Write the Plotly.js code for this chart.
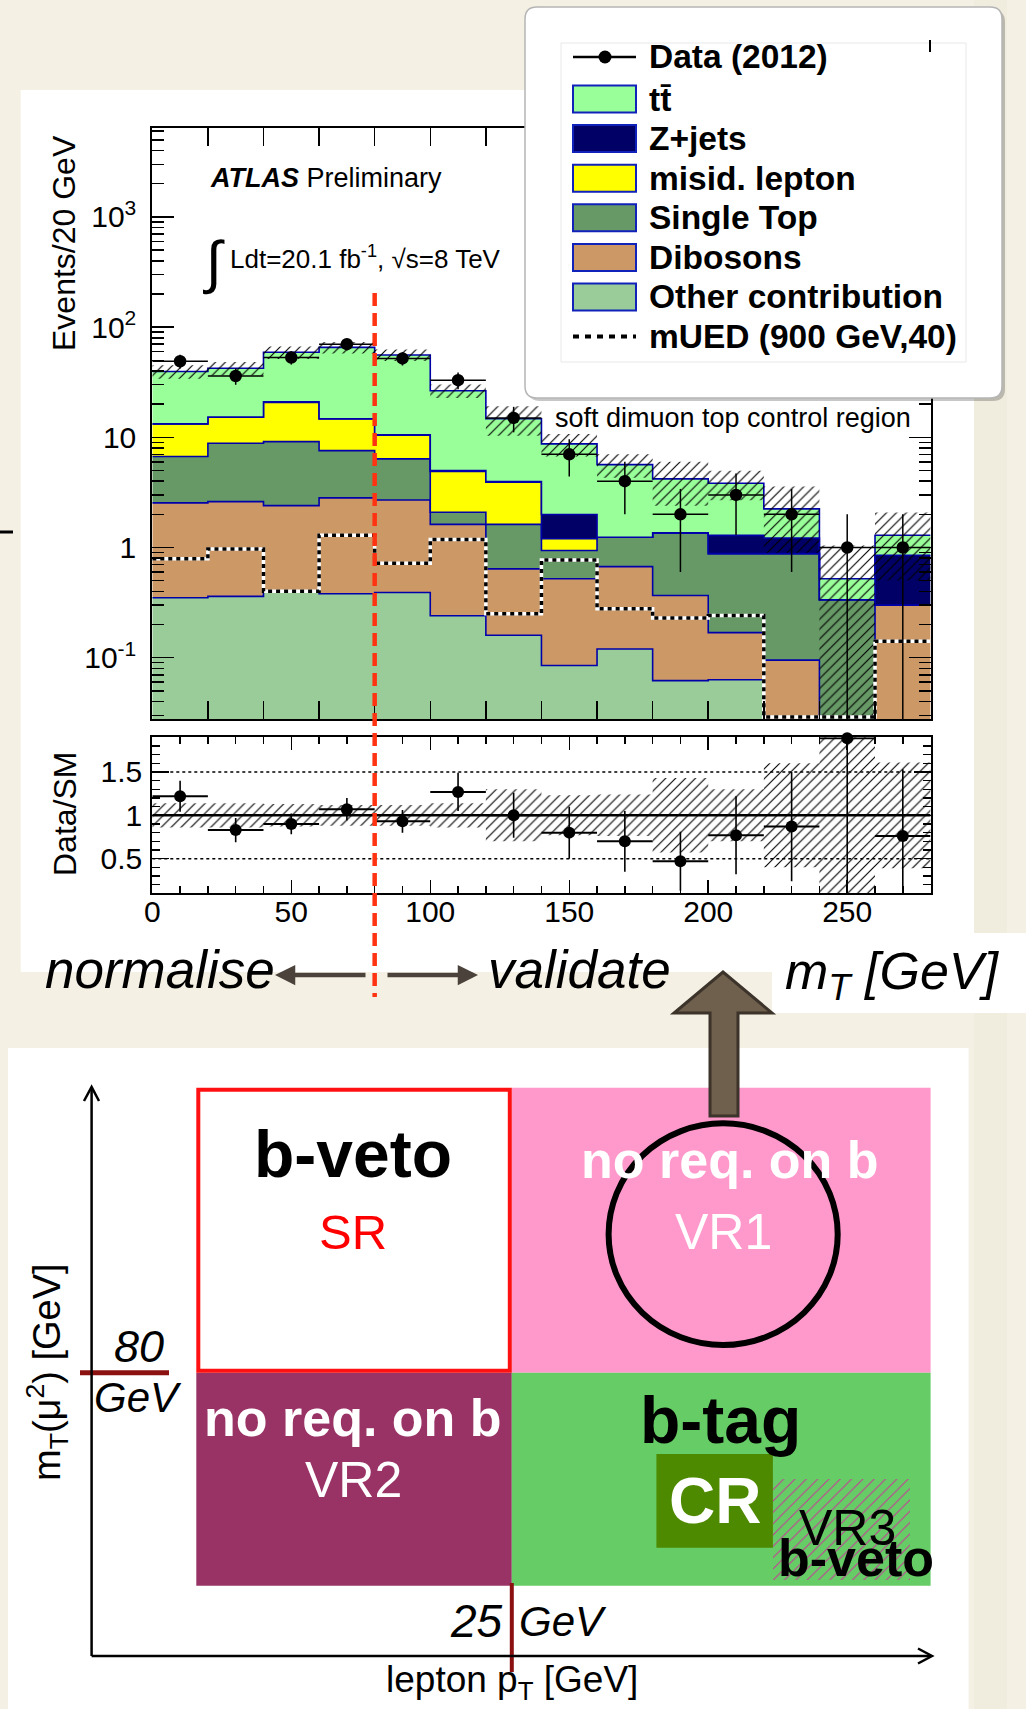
<!DOCTYPE html>
<html>
<head>
<meta charset="utf-8">
<script src="https://cdn.plot.ly/plotly-3.0.1.min.js"></script>
<style>
  html, body { margin: 0; padding: 0; background: #F4F0E3; }
  #chart { width: 1026px; height: 1709px; }
</style>
</head>
<body>
<div id="chart"></div>
<script>
// ---- m_T binning (GeV) ----
const binLow   = [0, 20, 40, 60, 80, 100, 120, 140, 160, 180, 200, 220, 240, 260];
const binWidth = 20;

// ---- Background expectations per bin (events / 20 GeV) ----
const other     = [0.35, 0.36, 0.40, 0.38, 0.39, 0.24, 0.16, 0.085, 0.12, 0.062, 0.063, 0, 0, 0];
const dibosons  = [2.19, 2.25, 2.00, 2.44, 2.31, 1.38, 0.48, 0.435, 0.55, 0.305, 0.106, 0.095, 0, 0.30];
const singleTop = [4.15, 6.22, 6.74, 4.75, 3.67, 0.47, 0.98, 0.42, 0.57, 0.99, 0.71, 0.785, 0.336, 0];
const misid     = [6.5, 6.4, 11.6, 7.1, 4.1, 2.8, 2.3, 0.26, 0, 0, 0, 0, 0, 0];
const zjets     = [0.05, 0.05, 0.3, 0.05, 0.05, 0.1, 0.05, 0.79, 0, 0, 0.41, 0.34, 0, 0.55];
const ttbar     = [26.3, 27.1, 38.0, 50.8, 45.3, 21.5, 10.75, 6.72, 4.41, 2.84, 2.54, 1.02, 0.184, 0.44];

// ---- Signal benchmark ----
const mued = [0.79, 0.97, 0.40, 1.29, 0.72, 1.18, 0.25, 0.77, 0.278, 0.229, 0.242, 0, 0, 0.141];

// ---- Data (2012) ----
const dataCounts = [49, 36, 53, 70, 52, 33, 15, 7, 4, 2, 3, 2, 1, 1];
const dataErr    = [7.0, 6.0, 7.3, 8.4, 7.2, 5.7, 3.9, 2.6, 2.0, 1.4, 1.7, 1.4, 1.0, 1.0];

// ---- Relative systematic uncertainty on the total SM expectation ----
const sysRel = [0.14, 0.14, 0.13, 0.12, 0.12, 0.14, 0.30, 0.23, 0.24, 0.43, 0.30, 0.60, 1.0, 0.61];

// ---- Data / SM ratio ----
const ratio    = [1.22, 0.83, 0.90, 1.07, 0.93, 1.27, 1.00, 0.80, 0.70, 0.47, 0.77, 0.87, 1.89, 0.76];
const ratioErr = [0.18, 0.14, 0.12, 0.13, 0.13, 0.22, 0.26, 0.30, 0.35, 0.34, 0.45, 0.63, 1.90, 0.77];

// ---- Tick labels ----
const logTickVals = [0.1, 1, 10, 100, 1000];
const logTickText = ['10<sup>-1</sup>', '1', '10', '10<sup>2</sup>', '10<sup>3</sup>'];

// ---- Page geometry helpers (pixel -> paper) ----
const W = 1026, H = 1709;
const X = v => v / W;
const Y = v => 1 - v / H;
const FONT = 'Liberation Sans, Arial, Helvetica, sans-serif';

const edges   = binLow.concat([binLow[binLow.length - 1] + binWidth]);
const centers = binLow.map(v => v + binWidth / 2);
const step    = arr => arr.concat([arr[arr.length - 1]]);
const FLOOR   = 1e-3;
const pos     = v => (v > 0 ? v : FLOOR);

const stack = [
  { name: 'Other contribution', vals: other,     color: '#99CC99' },
  { name: 'Dibosons',           vals: dibosons,  color: '#CC9966' },
  { name: 'Single Top',         vals: singleTop, color: '#669966' },
  { name: 'misid. lepton',      vals: misid,     color: '#FFFF00' },
  { name: 'Z+jets',             vals: zjets,     color: '#000066' },
  { name: 'tt\u0304',           vals: ttbar,     color: '#99FF99' }
];
const OUTLINE = '#0000AA';
const HATCH = { shape: '/', fgcolor: '#000000', bgcolor: 'rgba(0,0,0,0)', size: 7, solidity: 0.16 };

const traces = [];

// baseline for the stacked fills
traces.push({
  x: edges, y: step(binLow.map(() => FLOOR)), mode: 'lines',
  line: { shape: 'hv', width: 0 }, xaxis: 'x', yaxis: 'y', hoverinfo: 'skip'
});

let cum = binLow.map(() => 0);
stack.forEach(s => {
  cum = cum.map((c, i) => c + s.vals[i]);
  traces.push({
    x: edges, y: step(cum.map(pos)), mode: 'lines', name: s.name,
    line: { shape: 'hv', color: OUTLINE, width: 1.6 },
    fill: 'tonexty', fillcolor: s.color, xaxis: 'x', yaxis: 'y', hoverinfo: 'skip'
  });
});
const total = cum;

// hatched uncertainty band on the total expectation
traces.push({
  x: edges, y: step(total.map((t, i) => pos(t * (1 - sysRel[i])))), mode: 'lines',
  line: { shape: 'hv', width: 0 }, xaxis: 'x', yaxis: 'y', hoverinfo: 'skip'
});
traces.push({
  x: edges, y: step(total.map((t, i) => t * (1 + sysRel[i]))), mode: 'lines',
  line: { shape: 'hv', width: 0 }, fill: 'tonexty', fillcolor: 'rgba(0,0,0,0)',
  fillpattern: HATCH, xaxis: 'x', yaxis: 'y', hoverinfo: 'skip'
});

// mUED signal: white underlay + black dashes
const muedFloor = 0.029;
const muedY = step(mued.map(v => (v > 0 ? v : muedFloor)));
traces.push({ x: edges, y: muedY, mode: 'lines', line: { shape: 'hv', color: '#FFFFFF', width: 3.5 },
  xaxis: 'x', yaxis: 'y', hoverinfo: 'skip' });
traces.push({ x: edges, y: muedY, mode: 'lines', line: { shape: 'hv', color: '#000000', width: 3.5, dash: '4px,4px' },
  xaxis: 'x', yaxis: 'y', hoverinfo: 'skip' });

// data points
traces.push({
  x: centers, y: dataCounts, mode: 'markers', name: 'Data (2012)',
  marker: { color: '#000', size: 12.5 },
  error_y: { type: 'data', array: dataErr, arrayminus: dataErr.map((e, i) => Math.min(e, dataCounts[i] - FLOOR)),
             color: '#000', thickness: 1.5, width: 0 },
  error_x: { type: 'constant', value: binWidth / 2, color: '#000', thickness: 1.5, width: 0 },
  xaxis: 'x', yaxis: 'y', hoverinfo: 'skip'
});

// ---- ratio panel ----
traces.push({
  x: edges, y: step(sysRel.map(r => 1 - r)), mode: 'lines', line: { shape: 'hv', width: 0 },
  xaxis: 'x2', yaxis: 'y2', hoverinfo: 'skip'
});
traces.push({
  x: edges, y: step(sysRel.map(r => 1 + r)), mode: 'lines', line: { shape: 'hv', width: 0 },
  fill: 'tonexty', fillcolor: 'rgba(0,0,0,0)', fillpattern: HATCH,
  xaxis: 'x2', yaxis: 'y2', hoverinfo: 'skip'
});
[[0.5, 'dot', 1.5], [1.5, 'dot', 1.5], [1, 'solid', 2.5]].forEach(([v, d, w]) => {
  traces.push({ x: [edges[0], edges[edges.length - 1]], y: [v, v], mode: 'lines',
    line: { color: '#000', width: w, dash: d }, xaxis: 'x2', yaxis: 'y2', hoverinfo: 'skip' });
});
traces.push({
  x: centers, y: ratio, mode: 'lines', line: { width: 0 },
  error_y: { type: 'data', array: ratioErr, color: '#000', thickness: 1.6, width: 0 },
  error_x: { type: 'constant', value: binWidth / 2, color: '#000', thickness: 2, width: 0 },
  xaxis: 'x2', yaxis: 'y2', hoverinfo: 'skip'
});
traces.push({
  x: centers, y: ratio, mode: 'markers', marker: { color: '#000', size: 12 }, cliponaxis: false,
  xaxis: 'x2', yaxis: 'y2', hoverinfo: 'skip'
});

// ---- region sketch: VR3 hatched area ----
traces.push({
  x: [773, 910, 910, 773, 773], y: [1479, 1479, 1580, 1580, 1479], mode: 'lines',
  line: { width: 0 }, fill: 'toself', fillcolor: 'rgba(0,0,0,0)',
  fillpattern: { shape: '/', fgcolor: '#CC3399', bgcolor: 'rgba(0,0,0,0)', size: 8, solidity: 0.12 },
  xaxis: 'x3', yaxis: 'y3', hoverinfo: 'skip'
});

// ---- minor ticks for the log axis ----
const minorLog = [];
for (let d = -2; d <= 3; d++) for (let k = 2; k <= 9; k++) minorLog.push(k * Math.pow(10, d));

// ---- shapes ----
const shapes = [];
const rectP = (x0, y0, x1, y1, fill, line, layer) => shapes.push({
  type: 'rect', xref: 'paper', yref: 'paper', x0: X(x0), x1: X(x1), y0: Y(y1), y1: Y(y0),
  fillcolor: fill, line: line || { width: 0 }, layer: layer || 'below'
});
const lineP = (x0, y0, x1, y1, color, width, dash, layer) => shapes.push({
  type: 'line', xref: 'paper', yref: 'paper', x0: X(x0), x1: X(x1), y0: Y(y0), y1: Y(y1),
  line: { color: color, width: width, dash: dash || 'solid' }, layer: layer || 'below'
});
const pathP = (pts, close, fill, line, layer) => shapes.push({
  type: 'path', xref: 'paper', yref: 'paper',
  path: pts.map((p, i) => (i ? 'L' : 'M') + X(p[0]) + ',' + Y(p[1])).join(' ') + (close ? ' Z' : ''),
  fillcolor: fill || 'rgba(0,0,0,0)', line: line, layer: layer || 'below'
});
const roundRect = (x0, y0, x1, y1, r) => {
  const P = (x, y) => X(x) + ',' + Y(y);
  return 'M' + P(x0 + r, y0) + ' L' + P(x1 - r, y0) + ' Q' + P(x1, y0) + ' ' + P(x1, y0 + r) +
         ' L' + P(x1, y1 - r) + ' Q' + P(x1, y1) + ' ' + P(x1 - r, y1) +
         ' L' + P(x0 + r, y1) + ' Q' + P(x0, y1) + ' ' + P(x0, y1 - r) +
         ' L' + P(x0, y0 + r) + ' Q' + P(x0, y0) + ' ' + P(x0 + r, y0) + ' Z';
};

// page panels
rectP(974, 0, 1007, H, '#F0ECDE');
rectP(20.7, 90, 974, 972, '#FFFFFF');
rectP(772, 933, 1026, 1013, '#FFFFFF');
rectP(8, 1048, 968.6, H, '#FFFFFF');
lineP(0, 532, 13, 532, '#000', 3);

// region sketch
rectP(511.8, 1087.7, 930.6, 1372.7, '#FF99CC');
rectP(196.3, 1372.7, 511.8, 1585.7, '#993366');
rectP(511.8, 1372.7, 930.6, 1585.7, '#66CC66');
rectP(656.4, 1454, 772.9, 1547.7, '#4E8A00');
rectP(198.3, 1089.7, 509.8, 1370.7, '#FFFFFF', { color: '#FF1111', width: 4 });
shapes.push({ type: 'circle', xref: 'paper', yref: 'paper', x0: X(608.6), x1: X(837.7), y0: Y(1345), y1: Y(1123.3),
  line: { color: '#000', width: 6 }, layer: 'below' });
lineP(80, 1372.7, 169, 1372.7, '#8B1010', 5);
lineP(511.8, 1583, 511.8, 1672, '#8B1010', 4);
lineP(91.6, 1656, 91.6, 1087, '#000', 2.5);
lineP(91.6, 1656, 931, 1656, '#000', 2.5);
pathP([[84, 1101], [91.6, 1087], [99, 1101]], false, null, { color: '#000', width: 2.5 });
pathP([[918, 1648.5], [932, 1656], [918, 1663.5]], false, null, { color: '#000', width: 2.5 });

// up arrow from VR1 to the m_T axis
pathP([[710, 1116], [710, 1013], [674, 1013], [723, 972], [772, 1013], [738, 1013], [738, 1116]], true,
  '#6F5F4D', { color: '#3C332B', width: 3 });

// 80 GeV boundary on the m_T plot
shapes.push({ type: 'line', xref: 'x', yref: 'paper', x0: 80, x1: 80, y0: Y(293), y1: Y(997),
  line: { color: '#FF3311', width: 4.5, dash: '13px,7px' }, layer: 'above' });

// legend box
shapes.push({ type: 'path', xref: 'paper', yref: 'paper', path: roundRect(528, 10, 1005, 401, 12),
  fillcolor: 'rgba(0,0,0,0.22)', line: { width: 0 }, layer: 'above' });
shapes.push({ type: 'path', xref: 'paper', yref: 'paper', path: roundRect(525, 7, 1002, 398, 12),
  fillcolor: '#FFFFFF', line: { color: '#B5B5B5', width: 1.5 }, layer: 'above' });
rectP(561, 43, 966, 362, 'rgba(0,0,0,0)', { color: '#E8E8E8', width: 1 }, 'above');
lineP(930, 40, 930, 52, '#000', 2, 'solid', 'above');

const legendY = { data: 57, first: 99, dy: 39.6 };
lineP(573, legendY.data, 636, legendY.data, '#000', 2.5, 'solid', 'above');
shapes.push({ type: 'circle', xref: 'paper', yref: 'paper', x0: X(598.5), x1: X(611.5), y0: Y(63.5), y1: Y(50.5),
  fillcolor: '#000', line: { width: 0 }, layer: 'above' });
const legendStack = stack.slice().reverse();
legendStack.forEach((s, i) => {
  const yc = legendY.first + i * legendY.dy;
  rectP(573, yc - 13.5, 636, yc + 13.5, s.color, { color: '#1122BB', width: 2 }, 'above');
});
const yMued = legendY.first + legendStack.length * legendY.dy;
lineP(573, yMued, 636, yMued, '#000', 4, '6px,6px', 'above');

// ---- annotations ----
const annotations = [];
const ann = (x, y, text, size, o) => annotations.push(Object.assign({
  xref: 'paper', yref: 'paper', x: X(x), y: Y(y), text: text, showarrow: false,
  xanchor: 'center', yanchor: 'middle', font: { family: FONT, size: size, color: '#000' }
}, o || {}));

ann(208, 178, '<b><i>ATLAS</i></b> Preliminary', 27, { xanchor: 'left' });
ann(214, 262, '\u222B', 58);
ann(228, 257, 'Ldt=20.1 fb<sup>-1</sup>, \u221As=8 TeV', 26, { xanchor: 'left' });
ann(553, 418, 'soft dimuon top control region', 27, { xanchor: 'left' });
ann(64, 243, 'Events/20 GeV', 32, { textangle: -90 });
ann(65, 814, 'Data/SM', 32, { textangle: -90 });

const LEG = 33.5;
ann(647, legendY.data, '<b>Data (2012)</b>', LEG, { xanchor: 'left' });
legendStack.forEach((s, i) => ann(647, legendY.first + i * legendY.dy, '<b>' + s.name + '</b>', LEG, { xanchor: 'left' }));
ann(647, yMued, '<b>mUED (900 GeV,40)</b>', LEG, { xanchor: 'left' });

ann(43, 969, '<i>normalise</i>', 53, { xanchor: 'left' });
ann(486, 969, '<i>validate</i>', 53, { xanchor: 'left' });
ann(892, 975, '<i>m<sub>T</sub> [GeV]</i>', 52);
const arrowCol = '#4A423B';
annotations.push({ xref: 'paper', yref: 'paper', x: X(275), y: Y(975), ax: 92, ay: 0, text: '',
  showarrow: true, arrowhead: 2, arrowsize: 0.9, arrowwidth: 4.5, arrowcolor: arrowCol });
annotations.push({ xref: 'paper', yref: 'paper', x: X(478), y: Y(975), ax: -92, ay: 0, text: '',
  showarrow: true, arrowhead: 2, arrowsize: 0.9, arrowwidth: 4.5, arrowcolor: arrowCol });

ann(353, 1154, '<b>b-veto</b>', 66);
ann(353, 1232, 'SR', 49, { font: { family: FONT, size: 49, color: '#FF0000' } });
ann(730, 1160, '<b>no req. on b</b>', 52, { font: { family: FONT, size: 52, color: '#FFFFFF' } });
ann(723, 1232, 'VR1', 50, { font: { family: FONT, size: 50, color: '#FFFFFF' } });
ann(353, 1418, '<b>no req. on b</b>', 52, { font: { family: FONT, size: 52, color: '#FFFFFF' } });
ann(353, 1480, 'VR2', 50, { font: { family: FONT, size: 50, color: '#FFFFFF' } });
ann(720, 1420, '<b>b-tag</b>', 66);
ann(715, 1501, '<b>CR</b>', 64, { font: { family: FONT, size: 64, color: '#FFFFFF' } });
ann(847, 1528, 'VR3', 50);
ann(856, 1558, '<b>b-veto</b>', 52);
ann(139, 1346, '<i>80</i>', 45);
ann(138, 1397, '<i>GeV</i>', 42);
ann(505, 1621, '<i>25</i>', 46, { xanchor: 'right' });
ann(517, 1621, '<i>GeV</i>', 42, { xanchor: 'left' });
ann(512, 1682, 'lepton p<sub>T</sub> [GeV]', 37);
ann(47, 1372, 'm<sub>T</sub>(\u03BC<sup>2</sup>) [GeV]', 38, { textangle: -90 });

// ---- axes ----
const frame = { showline: true, linewidth: 2, linecolor: '#000', mirror: 'ticks', showgrid: false,
  zeroline: false, ticks: 'inside', tickcolor: '#000', fixedrange: true };

const layout = {
  width: W, height: H, autosize: false,
  margin: { l: 0, r: 0, t: 0, b: 0, pad: 0 },
  paper_bgcolor: '#F4F0E3', plot_bgcolor: 'rgba(0,0,0,0)',
  showlegend: false,
  font: { family: FONT, color: '#000' },
  xaxis: Object.assign({}, frame, {
    domain: [X(152.3), X(930.6)], range: [0, 280], anchor: 'y',
    tick0: 0, dtick: 20, ticklen: 18, tickwidth: 1.5, showticklabels: false
  }),
  yaxis: Object.assign({}, frame, {
    domain: [Y(719.3), Y(128.3)], type: 'log', range: [-1.559, 3.804], anchor: 'x',
    tickmode: 'array', tickvals: logTickVals, ticktext: logTickText,
    ticklen: 22, tickwidth: 1.5, ticklabelstandoff: 8,
    tickfont: { family: FONT, size: 30, color: '#000' },
    minor: { tickmode: 'array', tickvals: minorLog, ticks: 'inside', ticklen: 12, tickwidth: 1.5, tickcolor: '#000', showgrid: false }
  }),
  xaxis2: Object.assign({}, frame, {
    domain: [X(152.3), X(930.6)], range: [0, 280], anchor: 'y2',
    tick0: 0, dtick: 50, ticklen: 13, tickwidth: 1.5, ticklabelstandoff: -9,
    tickfont: { family: FONT, size: 30, color: '#000' },
    minor: { tick0: 0, dtick: 10, ticks: 'inside', ticklen: 7, tickwidth: 1.5, tickcolor: '#000', showgrid: false }
  }),
  yaxis2: Object.assign({}, frame, {
    domain: [Y(893.3), Y(737.3)], range: [0.1, 1.9], anchor: 'x2',
    tick0: 0, dtick: 0.5, ticklen: 17, tickwidth: 1.5, ticklabelstandoff: 2,
    tickfont: { family: FONT, size: 30, color: '#000' },
    minor: { tick0: 0, dtick: 0.1, ticks: 'inside', ticklen: 8, tickwidth: 1.5, tickcolor: '#000', showgrid: false }
  }),
  xaxis3: { domain: [0, 1], range: [0, W], anchor: 'y3', visible: false, fixedrange: true },
  yaxis3: { domain: [0, 1], range: [H, 0], anchor: 'x3', visible: false, fixedrange: true },
  shapes: shapes,
  annotations: annotations
};

Plotly.newPlot('chart', traces, layout, { staticPlot: true, displayModeBar: false });
</script>
</body>
</html>
